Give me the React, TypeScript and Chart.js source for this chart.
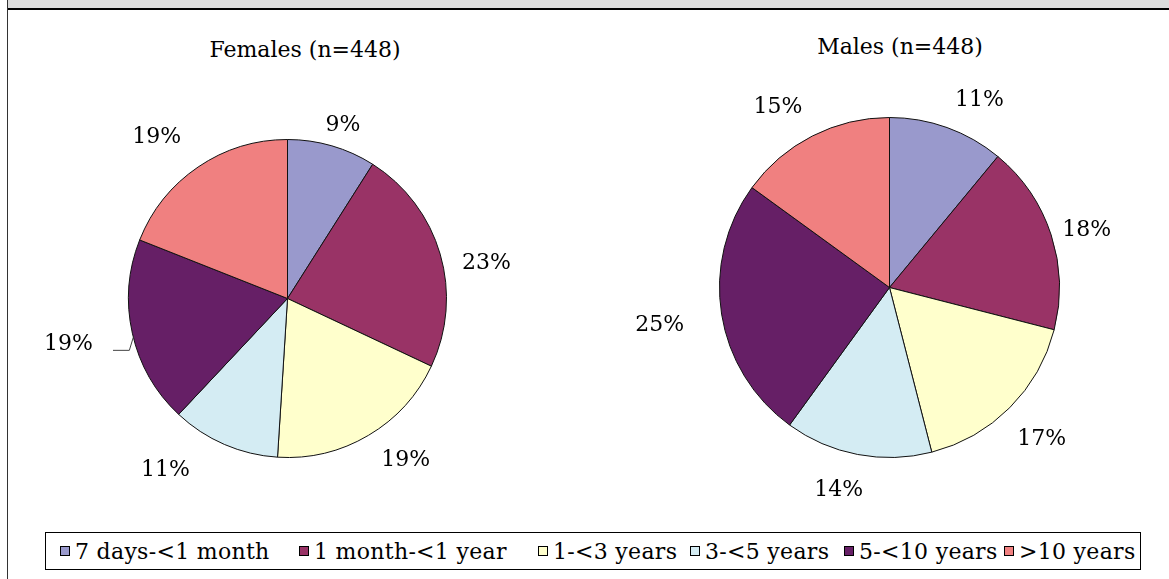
import React, { useEffect, useRef } from "react";
import { Chart, registerables } from "chart.js";

Chart.register(...registerables);

const categories = [
  "7 days-<1 month",
  "1 month-<1 year",
  "1-<3 years",
  "3-<5 years",
  "5-<10 years",
  ">10 years",
];
const femaleValues = [9, 23, 19, 11, 19, 19];
const maleValues = [11, 18, 17, 14, 25, 15];
const femaleTitle = "Females (n=448)";
const maleTitle = "Males (n=448)";

const sliceColors = ["#9999cc", "#993366", "#ffffcc", "#d4ecf3", "#661f66", "#f08080"];
const FONT = '"DejaVu Serif", serif';

// label nudges (styling only): [dx, dy] from the radial position
const femaleNudge = [[0, 17], [8, 19], [17, -10], [-43, -12], [-25, 1], [-19, 2]];
const maleNudge = [[18, 12], [-5, 7], [2, 1], [-11, -7], [-20, 4], [-15, 8]];
const legendItemWidths = [239, 239, 152, 154, 160, 140];

const labelPlugin = {
  id: "outLabels",
  afterDatasetsDraw(chart: any, _args: any, opts: any) {
    const ctx = chart.ctx;
    const meta = chart.getDatasetMeta(0);
    const data = chart.data.datasets[0].data;
    ctx.save();
    ctx.font = `22px ${FONT}`;
    ctx.fillStyle = "#000";
    ctx.textAlign = "center";
    ctx.textBaseline = "middle";
    meta.data.forEach((arc: any, i: number) => {
      const p = arc.getProps(["x", "y", "startAngle", "endAngle", "outerRadius"], true);
      const mid = (p.startAngle + p.endAngle) / 2;
      const d = p.outerRadius * (opts.factor || 1.25);
      const nudge = (opts.nudge && opts.nudge[i]) || [0, 0];
      const lx = p.x + Math.cos(mid) * d + nudge[0];
      const ly = p.y + Math.sin(mid) * d + nudge[1];
      const text = data[i] + "%";
      if (opts.leader && opts.leader.index === i) {
        const w = ctx.measureText(text).width;
        const ex = p.x + Math.cos(mid) * p.outerRadius;
        const ey = p.y + Math.sin(mid) * p.outerRadius;
        ctx.strokeStyle = "#444";
        ctx.lineWidth = 1;
        ctx.beginPath();
        ctx.moveTo(lx + w / 2 + 20, ly + 7.5);
        ctx.lineTo(ex - 3, ly + 7.5);
        ctx.lineTo(ex + 1, ey + 4);
        ctx.stroke();
      }
      ctx.fillText(text, lx, ly + 1);
    });
    ctx.restore();
  },
};

type Rect = { x: number; y: number; w: number; h: number };

function Pie(props: { values: number[]; rect: Rect; cx: number; cy: number; r: number; factor: number; nudge: number[][]; leader?: any }) {
  const ref = useRef<HTMLCanvasElement>(null);
  const { values, rect, cx, cy, r, factor, nudge, leader } = props;
  useEffect(() => {
    const size = 2 * r + 1;
    const left = cx - r - rect.x;
    const top = cy - r - rect.y;
    const chart = new Chart(ref.current as HTMLCanvasElement, {
      type: "pie",
      data: {
        labels: categories,
        datasets: [
          {
            data: values,
            backgroundColor: sliceColors,
            borderColor: "#111",
            borderWidth: 1,
          },
        ],
      },
      options: {
        animation: false,
        responsive: false,
        maintainAspectRatio: false,
        layout: {
          padding: {
            left,
            top,
            right: rect.w - left - size,
            bottom: rect.h - top - size,
          },
        },
        plugins: {
          legend: { display: false },
          tooltip: { enabled: false },
          outLabels: { factor, leader, nudge },
        } as any,
      },
      plugins: [labelPlugin as any],
    });
    return () => chart.destroy();
  }, []);
  return (
    <canvas
      ref={ref}
      width={rect.w}
      height={rect.h}
      style={{ position: "absolute", left: rect.x, top: rect.y, width: rect.w, height: rect.h }}
    />
  );
}

export default function App() {
  const titleStyle: React.CSSProperties = {
    position: "absolute",
    width: 300,
    textAlign: "center",
    font: `22px ${FONT}`,
    lineHeight: "26px",
    color: "#000",
    whiteSpace: "nowrap",
  };
  return (
    <div style={{ position: "absolute", left: 0, top: 0, width: 1169, height: 579, background: "#fff", overflow: "hidden" }}>
      <div
        style={{
          position: "absolute",
          left: 7,
          top: 0,
          width: 1162,
          height: 579,
          borderLeft: "1.5px solid #333",
          boxSizing: "border-box",
        }}
      />
      <div
        style={{
          position: "absolute",
          left: 8,
          top: 0,
          width: 1161,
          height: 10,
          background: "#dcdcdc",
          borderBottom: "2px solid #000",
          boxSizing: "border-box",
        }}
      />
      <div style={{ ...titleStyle, left: 305 - 150, top: 37 }}>{femaleTitle}</div>
      <div style={{ ...titleStyle, left: 900 - 150, top: 34 }}>{maleTitle}</div>
      <Pie
        values={femaleValues}
        rect={{ x: 20, y: 90, w: 540, h: 420 }}
        cx={287}
        cy={298}
        r={159}
        factor={1.25}
        nudge={femaleNudge}
        leader={{ index: 4 }}
      />
      <Pie
        values={maleValues}
        rect={{ x: 600, y: 70, w: 560, h: 450 }}
        cx={889}
        cy={287}
        r={170}
        factor={1.25}
        nudge={maleNudge}
      />
      <div
        style={{
          position: "absolute",
          left: 45,
          top: 532,
          width: 1096,
          height: 38,
          border: "1px solid #000",
          boxSizing: "border-box",
          display: "flex",
          alignItems: "center",
          paddingLeft: 14,
          font: `22px ${FONT}`,
          letterSpacing: "0.3px",
          whiteSpace: "nowrap",
        }}
      >
        {categories.map((c, i) => (
          <div key={c} style={{ display: "flex", alignItems: "center", width: legendItemWidths[i], flex: "none" }}>
            <span
              style={{
                display: "inline-block",
                width: 8,
                height: 8,
                border: "1.5px solid #000",
                background: sliceColors[i],
                marginRight: 5,
                flex: "none",
              }}
            />
            <span>{c}</span>
          </div>
        ))}
      </div>
    </div>
  );
}
